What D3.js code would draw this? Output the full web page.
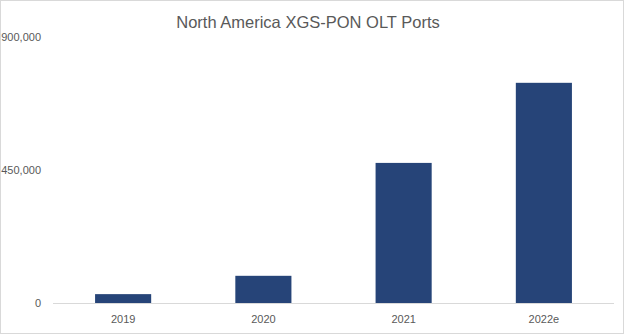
<!DOCTYPE html>
<html>
<head>
<meta charset="utf-8">
<script src="https://cdn.jsdelivr.net/npm/d3@7"></script>
<style>
  html, body { margin: 0; padding: 0; background: #fff; }
  svg { display: block; }
</style>
</head>
<body>
<svg id="chart" width="624" height="334"></svg>
<script>
// data
const years = ["2019", "2020", "2021", "2022e"];
const ports = [30000, 92000, 474000, 745000];
const yTicks = [0, 450000, 900000];

const W = 624, H = 334;
const plot = { left: 53, right: 614, top: 37, bottom: 303 };
const textColor = "#595959";
const font = "'Liberation Sans', Arial, sans-serif";

const svg = d3.select("#chart");

// outer frame
svg.append("rect")
  .attr("x", 0.5).attr("y", 0.5)
  .attr("width", W - 1).attr("height", H - 1)
  .attr("fill", "#fff")
  .attr("stroke", "#d9d9d9");

const x = d3.scaleBand()
  .domain(years)
  .range([plot.left, plot.right])
  .paddingInner(0.6)
  .paddingOuter(0.3);

const y = d3.scaleLinear()
  .domain([0, 900000])
  .range([plot.bottom, plot.top]);

// title
svg.append("text")
  .attr("x", 308)
  .attr("y", 28)
  .attr("text-anchor", "middle")
  .style("font-family", font)
  .style("font-size", "16.5px")
  .style("fill", textColor)
  .text("North America XGS-PON OLT Ports");

// y axis labels, no line
const yAxis = d3.axisLeft(y)
  .tickValues(yTicks)
  .tickFormat(d3.format(","))
  .tickSize(0)
  .tickPadding(12);

const gy = svg.append("g")
  .attr("transform", `translate(${plot.left},0)`)
  .call(yAxis);
gy.select(".domain").remove();
gy.selectAll("text")
  .style("font-family", font)
  .style("font-size", "11px")
  .style("fill", textColor);

// bars
svg.append("g")
  .selectAll("rect")
  .data(years)
  .join("rect")
  .attr("x", d => x(d))
  .attr("width", x.bandwidth())
  .attr("y", (d, i) => y(ports[i]))
  .attr("height", (d, i) => y(0) - y(ports[i]))
  .attr("fill", "#264478");

// x axis
const xAxis = d3.axisBottom(x).tickSize(0).tickPadding(12);
const gx = svg.append("g")
  .attr("transform", `translate(0,${plot.bottom})`)
  .call(xAxis);
gx.select(".domain")
  .attr("stroke", "#d9d9d9")
  .attr("d", `M${plot.left},0.5H${plot.right}`);
gx.selectAll("text")
  .style("font-family", font)
  .style("font-size", "11px")
  .style("fill", textColor);
</script>
</body>
</html>
